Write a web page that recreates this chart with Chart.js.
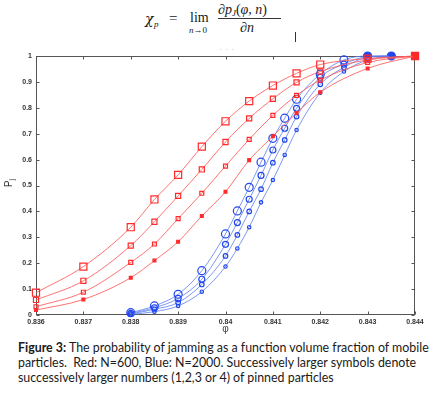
<!DOCTYPE html>
<html><head><meta charset="utf-8">
<script src="https://cdn.jsdelivr.net/npm/chart.js@4"></script>
<style>
html,body{margin:0;padding:0;background:#fff;width:434px;height:397px;overflow:hidden;}
#wrap{position:absolute;left:0;top:45px;width:434px;height:290px;}
.m{position:absolute;font-family:"Liberation Serif","DejaVu Serif",serif;color:#1a1a1a;white-space:nowrap;line-height:1;}
#ylab{position:absolute;left:9px;top:183px;transform:translate(-50%,-50%) rotate(-90deg);font-family:"Liberation Sans",Arial,sans-serif;font-size:10px;color:#333;white-space:nowrap;}
#ylab sub{font-size:7px;vertical-align:-2px;}
#cap{position:absolute;left:18px;top:340px;font-family:Lato,"Open Sans",sans-serif;font-size:12.4px;line-height:15px;color:#1a1a1a;white-space:nowrap;}
</style></head>
<body>
<div class="m" style="left:145px;top:12px;font-size:14px;font-style:italic;font-family:'DejaVu Serif',serif;">χ</div>
<div class="m" style="left:154px;top:20px;font-size:9px;font-style:italic;">p</div>
<div class="m" style="left:169px;top:11px;font-size:15px;">=</div>
<div class="m" style="left:190px;top:11px;font-size:14px;">lim</div>
<div class="m" style="left:189px;top:26px;font-size:9px;"><i>n</i>→0</div>
<div class="m" style="left:218px;top:3px;font-size:14px;"><i>∂p<span style="font-size:9px;vertical-align:-2px">J</span></i>(<i>φ, n</i>)</div>
<div style="position:absolute;left:218px;top:18px;width:63px;height:1px;background:#333;"></div>
<div class="m" style="left:240px;top:21px;font-size:14px;"><i>∂n</i></div>
<div style="position:absolute;left:295px;top:32px;width:1px;height:10px;background:#333;"></div>
<div class="m" style="left:219px;top:45px;font-size:9px;color:#bbb;letter-spacing:3px;">···</div>
<div id="wrap"><canvas id="c"></canvas></div>
<div id="ylab">P<sub>j</sub></div>
<div id="cap"><b>Figure 3:</b> The probability of jamming as a function volume fraction of mobile<br>particles.&nbsp; Red: N=600, Blue: N=2000. Successively larger symbols denote<br>successively larger numbers (1,2,3 or 4) of pinned particles</div>
<script>
// ---- data ----
const phiRed  = [0.836, 0.837, 0.838, 0.8385, 0.839, 0.8395, 0.840, 0.8405, 0.841, 0.8415, 0.842, 0.843, 0.844];
const red1    = [0.019, 0.060, 0.144, 0.210, 0.283, 0.382, 0.476, 0.598, 0.690, 0.780, 0.860, 0.952, 1.000];
const red2    = [0.032, 0.088, 0.203, 0.274, 0.372, 0.470, 0.575, 0.678, 0.771, 0.848, 0.907, 0.975, 1.000];
const red3    = [0.058, 0.132, 0.268, 0.360, 0.460, 0.562, 0.668, 0.759, 0.835, 0.898, 0.940, 0.985, 1.000];
const red4    = [0.086, 0.187, 0.339, 0.446, 0.541, 0.650, 0.748, 0.826, 0.886, 0.933, 0.967, 0.990, 1.000];
const phiBlue = [0.838, 0.8385, 0.839, 0.8395, 0.840, 0.84025, 0.8405, 0.84075, 0.841, 0.84125, 0.8415, 0.842, 0.8425, 0.843, 0.8435];
const blue1   = [0.002, 0.013, 0.035, 0.090, 0.187, 0.257, 0.339, 0.435, 0.521, 0.618, 0.714, 0.858, 0.940, 0.985, 1.000];
const blue2   = [0.004, 0.022, 0.048, 0.118, 0.228, 0.309, 0.400, 0.486, 0.588, 0.676, 0.766, 0.891, 0.956, 0.995, 1.000];
const blue3   = [0.006, 0.028, 0.064, 0.138, 0.273, 0.357, 0.447, 0.539, 0.637, 0.721, 0.798, 0.918, 0.969, 0.998, 1.000];
const blue4   = [0.009, 0.035, 0.080, 0.171, 0.313, 0.402, 0.493, 0.590, 0.682, 0.760, 0.833, 0.930, 0.985, 1.000, 1.000];
const xTicks  = [0.836, 0.837, 0.838, 0.839, 0.840, 0.841, 0.842, 0.843, 0.844];
const yTicks  = [0, 0.1, 0.2, 0.3, 0.4, 0.5, 0.6, 0.7, 0.8, 0.9, 1];
const xLabel  = 'φ';

// ---- styling ----
const RED_M = '#ff2a2a', RED_L = 'rgba(255,90,90,0.85)';
const BLUE_M = '#2246ee', BLUE_L = 'rgba(90,125,240,0.8)';
const pts = (xs, ys) => xs.map((x, i) => ({x, y: ys[i]}));

const datasets = [];
[[red1, 2.0, RED_M], [red2, 2.8, 'rgba(0,0,0,0)'], [red3, 3.6, 'rgba(0,0,0,0)'], [red4, 5.0, 'rgba(0,0,0,0)']].forEach(([ys, r, bg]) => {
  datasets.push({data: pts(phiRed, ys), borderColor: RED_L, borderWidth: 1, pointStyle: 'rect',
    pointRadius: r, pointHoverRadius: r, pointBorderColor: RED_M, pointBackgroundColor: bg, pointBorderWidth: 1.2,
    cubicInterpolationMode: 'monotone', clip: false});
});
[[blue1, 1.7], [blue2, 2.3], [blue3, 3.0], [blue4, 4.0]].forEach(([ys, r]) => {
  datasets.push({data: pts(phiBlue, ys), borderColor: BLUE_L, borderWidth: 1, pointStyle: 'circle',
    pointRadius: r, pointHoverRadius: r, pointBorderColor: BLUE_M,
    pointBackgroundColor: c => (c.raw && c.raw.y >= 0.995) ? BLUE_M : 'rgba(0,0,0,0)', pointBorderWidth: 1.2,
    cubicInterpolationMode: 'monotone', clip: false});
});

const boxPlugin = {
  id: 'box',
  beforeDatasetsDraw(chart) {
    const {ctx, chartArea: a, scales: {x, y}} = chart;
    const L = Math.round(a.left) + 0.5, R = Math.round(a.right) - 0.5, T = Math.round(a.top) + 0.5, B = Math.round(a.bottom) - 0.5;
    ctx.save();
    ctx.strokeStyle = '#555'; ctx.lineWidth = 1;
    ctx.strokeRect(L, T, R - L, B - T);
    ctx.beginPath();
    x.ticks.forEach(t => { const px = Math.round(x.getPixelForValue(t.value)) + 0.5;
      ctx.moveTo(px, B); ctx.lineTo(px, B - 3); ctx.moveTo(px, T); ctx.lineTo(px, T + 3); });
    y.ticks.forEach(t => { const py = Math.round(y.getPixelForValue(t.value)) + 0.5;
      ctx.moveTo(L, py); ctx.lineTo(L + 3, py); ctx.moveTo(R, py); ctx.lineTo(R - 3, py); });
    ctx.stroke();
    ctx.restore();
  }
};

const tickFont = {family: '"Liberation Sans", Arial, sans-serif', size: 7, weight: 'bold'};
new Chart(document.getElementById('c'), {
  type: 'line',
  data: {datasets},
  options: {
    responsive: true, maintainAspectRatio: false, animation: false,
    layout: {padding: {top: 11, right: 19, left: 0, bottom: 0}},
    plugins: {legend: {display: false}, tooltip: {enabled: false}},
    scales: {
      x: {type: 'linear', min: 0.836, max: 0.844,
        afterBuildTicks: s => { s.ticks = xTicks.map(v => ({value: v})); },
        afterFit: s => { s.height = 20; },
        grid: {display: false, drawTicks: false}, border: {display: false},
        ticks: {font: tickFont, color: '#333', padding: 3, maxRotation: 0, autoSkip: false,
          callback: v => String(Number(Number(v).toFixed(3)))},
        title: {display: true, text: xLabel, font: {family: '"Liberation Sans", Arial, sans-serif', size: 10}, color: '#444', padding: 0}
      },
      y: {min: 0, max: 1,
        afterBuildTicks: s => { s.ticks = yTicks.map(v => ({value: v})); },
        afterFit: s => { s.width = 36; },
        grid: {display: false, drawTicks: false}, border: {display: false},
        ticks: {font: tickFont, color: '#333', padding: 4, autoSkip: false,
          callback: v => String(Number(Number(v).toFixed(1)))}
      }
    }
  },
  plugins: [boxPlugin]
});
</script>
</body></html>
